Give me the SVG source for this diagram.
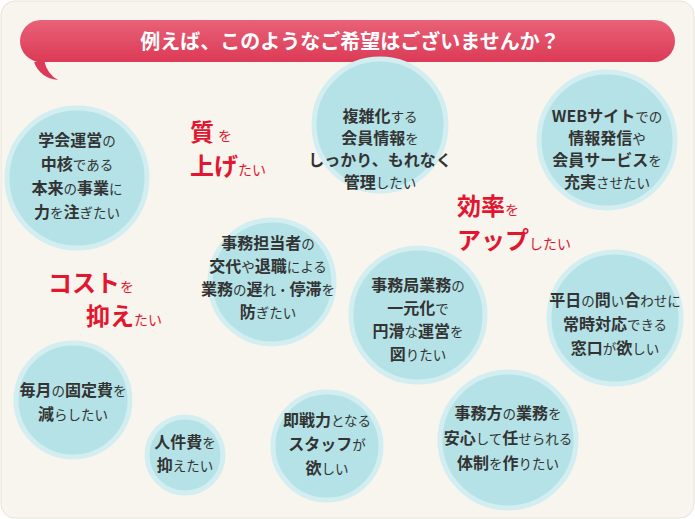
<svg xmlns="http://www.w3.org/2000/svg" width="695" height="519" viewBox="0 0 695 519">
<defs>
<linearGradient id="hg" x1="0" y1="0" x2="0" y2="1"><stop offset="0" stop-color="#e86278"/><stop offset="1" stop-color="#dc3a56"/></linearGradient>
<style>
.c{fill:#b4e2e6;stroke:#d2eef0;stroke-width:5}
text{font-family:"Noto Sans CJK JP",sans-serif;font-weight:bold;fill:#333;text-anchor:middle;font-size:16px}
.k{font-size:13.5px;font-weight:normal}
.r{fill:#e2162f;font-size:24px;text-anchor:start}
.rk{font-size:14px;font-weight:normal}
</style>
</defs>
<rect x="1" y="1" width="693" height="517" rx="14" fill="#f8f5ef" stroke="#e8e3da"/>
<g id="header">
<path d="M44 60 Q47 74 58 80 Q40 78 34 62 Z" fill="#dc3a56"/>
<rect x="20" y="20" width="655" height="42" rx="21" fill="url(#hg)"/>
<text x="350" y="49" style="fill:#fff;font-size:20px">例えば、このようなご希望はございませんか？</text>
</g>
<g id="n1"><circle class="c" cx="77" cy="178" r="70"/><text x="77" y="146">学会運営<tspan class="k">の</tspan></text><text x="77" y="170">中核<tspan class="k">である</tspan></text><text x="77" y="194">本来<tspan class="k">の</tspan>事業<tspan class="k">に</tspan></text><text x="77" y="218">力<tspan class="k">を</tspan>注<tspan class="k">ぎたい</tspan></text></g>
<g id="n2"><circle class="c" cx="380" cy="125" r="66"/><text x="380" y="122">複雑化<tspan class="k">する</tspan></text><text x="380" y="144">会員情報<tspan class="k">を</tspan></text><text x="380" y="166">しっかり、もれなく</text><text x="380" y="188">管理<tspan class="k">したい</tspan></text></g>
<g id="n3"><circle class="c" cx="607" cy="140" r="68"/><text x="607" y="122">WEBサイト<tspan class="k">での</tspan></text><text x="607" y="144">情報発信<tspan class="k">や</tspan></text><text x="607" y="166">会員サービス<tspan class="k">を</tspan></text><text x="607" y="188">充実<tspan class="k">させたい</tspan></text></g>
<g id="n4"><circle class="c" cx="272" cy="282" r="62"/><text x="268" y="249">事務担当者<tspan class="k">の</tspan></text><text x="268" y="272">交代<tspan class="k">や</tspan>退職<tspan class="k">による</tspan></text><text x="268" y="295">業務<tspan class="k">の</tspan>遅<tspan class="k">れ・</tspan>停滞<tspan class="k">を</tspan></text><text x="268" y="318">防<tspan class="k">ぎたい</tspan></text></g>
<g id="n5"><circle class="c" cx="418" cy="315" r="67"/><text x="418" y="291">事務局業務<tspan class="k">の</tspan></text><text x="418" y="314">一元化<tspan class="k">で</tspan></text><text x="418" y="337">円滑<tspan class="k">な</tspan>運営<tspan class="k">を</tspan></text><text x="418" y="360">図<tspan class="k">りたい</tspan></text></g>
<g id="n6"><circle class="c" cx="615" cy="318" r="66"/><text x="615" y="306">平日<tspan class="k">の</tspan>問<tspan class="k">い</tspan>合<tspan class="k">わせに</tspan></text><text x="615" y="330">常時対応<tspan class="k">できる</tspan></text><text x="615" y="354">窓口<tspan class="k">が</tspan>欲<tspan class="k">しい</tspan></text></g>
<g id="n7"><circle class="c" cx="73" cy="400" r="57"/><text x="73" y="396">毎月<tspan class="k">の</tspan>固定費<tspan class="k">を</tspan></text><text x="73" y="420">減<tspan class="k">らしたい</tspan></text></g>
<g id="n8"><circle class="c" cx="185" cy="455" r="38"/><text x="185" y="448">人件費<tspan class="k">を</tspan></text><text x="185" y="471">抑<tspan class="k">えたい</tspan></text></g>
<g id="n9"><circle class="c" cx="327" cy="446" r="54"/><text x="327" y="426">即戦力<tspan class="k">となる</tspan></text><text x="327" y="450">スタッフ<tspan class="k">が</tspan></text><text x="327" y="474">欲<tspan class="k">しい</tspan></text></g>
<g id="n10"><circle class="c" cx="508" cy="440" r="68"/><text x="508" y="419">事務方<tspan class="k">の</tspan>業務<tspan class="k">を</tspan></text><text x="508" y="444">安心<tspan class="k">して</tspan>任<tspan class="k">せられる</tspan></text><text x="508" y="469">体制<tspan class="k">を</tspan>作<tspan class="k">りたい</tspan></text></g>
<g id="l1"><text class="r" x="190" y="141">質<tspan class="rk" dx="4">を</tspan></text><text class="r" x="190" y="175">上げ<tspan class="rk">たい</tspan></text></g>
<g id="l2"><text class="r" x="48" y="292">コスト<tspan class="rk">を</tspan></text><text class="r" x="86" y="325">抑え<tspan class="rk">たい</tspan></text></g>
<g id="l3"><text class="r" x="457" y="215">効率<tspan class="rk">を</tspan></text><text class="r" x="457" y="249">アップ<tspan class="rk">したい</tspan></text></g>
<g id="connectors"/>
</svg>
